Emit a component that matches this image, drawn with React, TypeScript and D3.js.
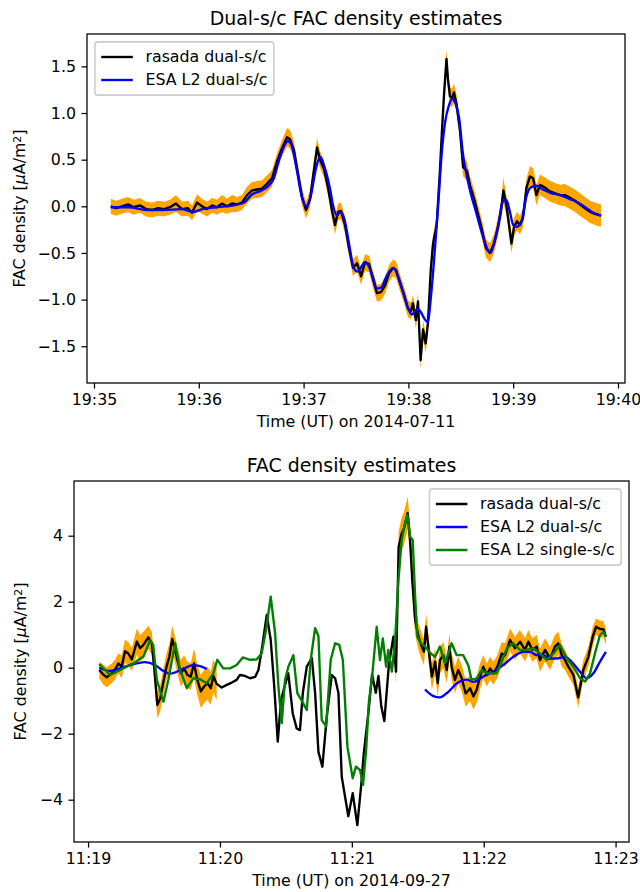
import React, { useEffect, useRef } from "react";
import * as d3 from "d3";

// ---- top panel: 2014-07-11, time in seconds after 19:35:00 UT
const topTime = [
  9.6, 12.6, 16.0, 19.5, 22.9, 26.3, 29.8, 33.2, 36.6, 40.1,
  43.5, 46.9, 50.4, 53.8, 56.1, 59.0, 61.8, 64.7, 67.6, 70.4,
  73.3, 76.1, 79.0, 81.9, 84.7, 87.6, 90.5, 93.3, 96.2, 99.0,
  101.9, 104.8, 107.6, 110.5, 112.2, 114.5, 116.8, 119.1, 121.4, 123.7,
  126.0, 127.7, 129.4, 131.7, 134.0, 136.3, 138.0, 139.7, 141.4, 143.7,
  146.0, 148.3, 150.6, 152.9, 155.2, 157.5, 159.7, 162.0, 164.3, 166.6,
  168.9, 171.2, 172.9, 175.2, 177.5, 179.8, 181.5, 182.6, 184.3, 185.5,
  187.0, 188.4, 189.9, 191.2, 192.8, 194.1, 196.2, 198.1, 199.2, 200.4,
  201.8, 202.7, 203.8, 205.0, 206.1, 207.5, 209.5, 211.3, 213.5, 215.3,
  217.6, 219.8, 222.1, 224.4, 226.7, 229.0, 231.3, 233.0, 234.4, 236.2,
  237.6, 239.0, 240.5, 242.2, 243.9, 245.6, 247.6, 249.6, 251.4, 253.3,
  255.3, 258.2, 261.1, 264.0, 266.8, 269.6, 272.5, 275.4, 278.2, 281.1,
  284.0, 286.8, 290.3,
];
const topRasada = [
  0.0, -0.02, 0.0, 0.02, -0.01, 0.01, -0.03, -0.04, -0.02, -0.03,
  -0.01, 0.03, -0.03, -0.02, -0.07, 0.04, 0.0, -0.03, 0.01, -0.01,
  0.03, 0.0, 0.03, 0.02, 0.04, 0.12, 0.17, 0.18, 0.19, 0.24,
  0.3, 0.48, 0.62, 0.74, 0.72, 0.6, 0.35, 0.1, -0.04, 0.08,
  0.4, 0.63, 0.5, 0.4, 0.2, -0.05, -0.2, -0.06, -0.05, -0.2,
  -0.45, -0.66, -0.61, -0.75, -0.6, -0.62, -0.78, -0.93, -0.92, -0.85,
  -0.72, -0.66, -0.68, -0.82, -0.95, -1.1, -1.12, -1.04, -1.22, -1.02,
  -1.65, -1.32, -1.47, -1.25, -0.68, -0.4, -0.2, 0.4, 0.8, 1.2,
  1.58, 1.35, 1.18, 1.16, 1.22, 1.1, 0.82, 0.42, 0.38, 0.22,
  0.08, -0.08, -0.25, -0.45, -0.5, -0.4, -0.22, -0.05, 0.17, 0.0,
  -0.2, -0.4, -0.22, -0.16, -0.2, -0.12, 0.2, 0.32, 0.3, 0.12,
  0.23, 0.2, 0.16, 0.14, 0.12, 0.12, 0.09, 0.06, 0.02, -0.02,
  -0.06, -0.08, -0.1,
];
const topRasadaErr = [
  0.08, 0.08, 0.08, 0.08, 0.08, 0.08, 0.08, 0.08, 0.08, 0.08,
  0.08, 0.09, 0.08, 0.08, 0.08, 0.09, 0.08, 0.08, 0.08, 0.08,
  0.09, 0.08, 0.09, 0.08, 0.08, 0.09, 0.09, 0.09, 0.09, 0.09,
  0.09, 0.09, 0.09, 0.1, 0.1, 0.09, 0.09, 0.09, 0.09, 0.09,
  0.09, 0.1, 0.09, 0.09, 0.09, 0.09, 0.1, 0.09, 0.09, 0.09,
  0.09, 0.09, 0.09, 0.09, 0.09, 0.09, 0.09, 0.09, 0.09, 0.09,
  0.09, 0.09, 0.09, 0.09, 0.09, 0.09, 0.09, 0.09, 0.09, 0.09,
  0.09, 0.1, 0.1, 0.1, 0.1, 0.1, 0.1, 0.1, 0.1, 0.1,
  0.1, 0.1, 0.1, 0.1, 0.1, 0.1, 0.1, 0.1, 0.1, 0.1,
  0.1, 0.1, 0.1, 0.1, 0.1, 0.1, 0.1, 0.1, 0.14, 0.1,
  0.1, 0.1, 0.1, 0.1, 0.1, 0.1, 0.1, 0.11, 0.11, 0.11,
  0.11, 0.11, 0.11, 0.11, 0.11, 0.12, 0.12, 0.12, 0.12, 0.12,
  0.12, 0.12, 0.12,
];
const topEsaTime = [
  9.6, 20, 30, 40, 50, 57, 62, 70, 80, 86,
  90, 96, 100, 103, 106, 109, 111, 113, 116, 119,
  121.4, 124, 127, 129.5, 132, 135, 137, 139, 141, 143.5,
  146, 148.5, 151, 153, 155, 157, 159.5, 162, 164.5, 167,
  169, 171.5, 174, 177, 180, 182, 184, 185.5, 187, 189,
  191, 193, 195, 197, 199, 201, 203, 205, 207, 209,
  211.3, 213.5, 216, 219, 222, 225, 227, 229, 231.5, 234,
  236, 238, 240, 242, 245, 247.5, 250, 253, 257, 262,
  267, 272, 277, 282, 286, 290.3,
];
const topEsa = [
  -0.01, -0.01, -0.04, -0.04, -0.03, -0.06, -0.03, -0.01, 0.01, 0.04,
  0.12, 0.17, 0.22, 0.3, 0.5, 0.65, 0.7, 0.66, 0.4, 0.1,
  0.0, 0.1, 0.4, 0.53, 0.42, 0.2, 0.0, -0.1, -0.06, -0.15,
  -0.4, -0.65, -0.7, -0.65, -0.6, -0.63, -0.75, -0.88, -0.87, -0.77,
  -0.7, -0.66, -0.75, -0.92, -1.1, -1.16, -1.12, -1.1, -1.13, -1.2,
  -1.24, -0.95, -0.5, 0.0, 0.55, 0.9, 1.07, 1.15, 1.1, 0.95,
  0.55, 0.32, 0.12, -0.08, -0.28, -0.45, -0.5, -0.4, -0.2, 0.05,
  0.07, -0.05, -0.2, -0.22, -0.15, 0.1, 0.2, 0.22, 0.18, 0.14,
  0.12, 0.08, 0.04, -0.02, -0.07, -0.1,
];
const topXTicks = [0, 60, 120, 180, 240, 300];
const topXTickLabels = ["19:35", "19:36", "19:37", "19:38", "19:39", "19:40"];
const topYTicks = [-1.5, -1.0, -0.5, 0.0, 0.5, 1.0, 1.5];

// ---- bottom panel: 2014-09-27, time in seconds after 11:19:00 UT
const botTime = [
  5.1, 6.8, 8.5, 10.8, 12.3, 13.8, 15.3, 16.8, 18.3, 19.9,
  22.2, 23.7, 25.2, 27.4, 29.0, 30.2, 31.5, 32.8, 34.0, 35.5,
  37.0, 38.3, 39.6, 40.6, 42.2, 43.7, 45.2, 46.7, 48.2, 49.7,
  51.3, 52.8, 54.3, 55.8, 57.0, 58.5, 60.8, 63.1, 65.4, 67.6,
  69.1, 71.4, 73.7, 76.0, 77.5, 79.0, 81.3, 83.1, 84.7, 86.3,
  87.8, 89.2, 91.1, 93.1, 94.9, 96.4, 97.7, 99.5, 101.8, 103.3,
  104.8, 106.6, 108.6, 110.9, 112.4, 113.9, 115.4, 118.4, 120.4, 122.5,
  124.2, 125.4, 127.6, 129.2, 130.9, 132.1, 133.4, 134.8, 136.8, 138.9,
  140.1, 141.3, 142.7, 143.7, 144.7, 145.4, 146.5, 147.5, 148.8, 150.3,
  151.8, 152.8, 153.8, 154.8, 156.4, 157.9, 159.1, 160.1, 161.6, 163.2,
  164.4, 165.4, 166.9, 168.4, 170.0, 171.8, 173.8, 175.3, 176.8, 178.3,
  179.8, 181.4, 182.9, 184.4, 186.2, 188.2, 189.7, 192.0, 194.2, 196.5,
  198.8, 200.3, 202.1, 204.1, 205.6, 207.9, 210.2, 212.4, 213.9, 215.5,
  217.0, 218.5, 220.8, 223.0, 225.3, 227.6, 229.6, 231.1, 232.9, 234.4,
  235.6,
];
const botRasada = [
  -0.07, -0.2, -0.29, -0.17, -0.05, 0.13, 0.03, 0.5, 0.43, 0.25,
  0.79, 0.59, 0.69, 0.92, 0.74, -0.07, -1.13, -0.93, -0.52, -0.02,
  0.34, 0.87, 0.54, 0.24, -0.17, -0.02, -0.22, -0.27, 0.13, -0.37,
  -0.72, -0.57, -0.47, -0.62, -0.25, -0.49, -0.6, -0.52, -0.45, -0.37,
  -0.22, -0.25, -0.32, -0.28, -0.07, 0.54, 1.6, 0.84, -0.57, -2.24,
  -0.98, -0.62, -0.17, -1.38, -1.84, -1.89, -0.77, 0.03, 0.29, -0.77,
  -2.55, -3.0, -1.48, -0.22, -0.32, -0.77, -3.3, -4.5, -3.8, -4.77,
  -3.6, -2.63, -1.32, -0.2, -0.76, -0.25, -1.17, -1.62, 0.05, 0.94,
  -0.12, 3.67, 4.07, 4.22, 4.48, 4.68, 3.87, 2.66, 1.45, 0.94,
  0.64, 0.48, 1.24, 0.64, -0.27, 0.18, -0.47, 0.23, 0.38, -0.07,
  0.64, 0.03, -0.37, -0.07, -0.32, -0.78, -0.62, -0.87, -0.67, -0.27,
  0.03, -0.22, -0.02, -0.17, 0.03, 0.43, 0.38, 0.84, 0.59, 0.79,
  0.54, 0.79, 0.54, 0.64, 0.23, 0.54, 0.28, 0.64, 0.74, 0.38,
  0.23, 0.03, -0.22, -0.9, -0.07, 0.33, 0.94, 1.24, 1.17, 1.17,
  0.94,
];
// no uncertainty where the band is missing (null)
const botRasadaErr = [
  0.25, 0.3, 0.3, 0.3, 0.3, 0.3, 0.35, 0.35, 0.35, 0.35,
  0.4, 0.4, 0.4, 0.35, 0.35, 0.35, 0.4, 0.4, 0.4, 0.4,
  0.4, 0.4, 0.4, 0.4, 0.4, 0.4, 0.4, 0.4, 0.45, 0.45,
  0.5, 0.5, 0.5, 0.5, 0.5, 0.5, null, null, null, null,
  null, null, null, null, null, null, null, null, null, null,
  null, null, null, null, null, null, null, null, null, null,
  null, null, null, null, null, null, null, null, null, null,
  null, null, null, null, null, null, null, null, null, 0.35,
  0.35, 0.45, 0.5, 0.5, 0.5, 0.5, 0.5, 0.45, 0.45, 0.4,
  0.4, 0.4, 0.4, 0.4, 0.4, 0.4, 0.4, 0.4, 0.4, 0.4,
  0.4, 0.4, 0.4, 0.4, 0.4, 0.4, 0.4, 0.4, 0.4, 0.4,
  0.35, 0.35, 0.35, 0.35, 0.35, 0.35, 0.35, 0.35, 0.35, 0.35,
  0.35, 0.35, 0.35, 0.35, 0.35, 0.35, 0.35, 0.35, 0.35, 0.35,
  0.3, 0.3, 0.3, 0.3, 0.3, 0.3, 0.3, 0.25, 0.25, 0.25,
  0.25,
];
const botEsaDualTimeA = [5.1, 10.0, 17.6, 25.9, 30.5, 34.3, 37.3, 43.4, 47.9, 50.9, 54.0];
const botEsaDualA = [0.0, -0.1, 0.05, 0.17, 0.08, -0.1, -0.18, -0.03, 0.08, 0.05, -0.04];
const botEsaDualTimeB = [
  153.3, 157.1, 160.1, 163.9, 167.7, 172.3, 175.3, 179.8, 184.4, 188.9,
  193.5, 198.0, 201.1, 204.1, 207.1, 210.2, 213.2, 217.0, 220.0, 223.8,
  226.9, 229.9, 232.9, 235.6,
];
const botEsaDualB = [
  -0.66, -0.86, -0.9, -0.73, -0.48, -0.36, -0.43, -0.27, -0.12, 0.08,
  0.33, 0.48, 0.48, 0.38, 0.38, 0.28, 0.28, 0.33, 0.18, -0.12,
  -0.32, -0.17, 0.18, 0.48,
];
const botEsaSingleTime = [
  5.1, 10.0, 14.6, 20.6, 25.2, 28.2, 29.6, 31.3, 34.3, 36.5,
  39.6, 41.9, 44.9, 47.9, 50.9, 54.0, 57.0, 58.8, 61.5, 64.6,
  67.6, 70.4, 73.7, 76.7, 79.0, 81.0, 83.1, 85.1, 86.6, 88.1,
  89.6, 91.1, 93.4, 95.2, 97.9, 99.5, 101.3, 103.3, 104.8, 106.3,
  108.3, 110.4, 112.4, 114.3, 115.9, 118.0, 120.4, 121.9, 123.7, 125.1,
  126.5, 127.8, 129.2, 131.3, 132.8, 134.1, 135.6, 136.6, 138.2, 139.7,
  141.2, 142.7, 144.2, 145.3, 146.5, 147.7, 148.8, 149.8, 151.3, 153.3,
  155.9, 157.9, 160.1, 162.4, 165.4, 167.7, 170.7, 173.0, 174.5, 176.8,
  179.1, 181.4, 183.6, 185.9, 188.2, 190.5, 193.5, 196.5, 199.6, 202.6,
  205.6, 208.7, 211.7, 214.7, 217.8, 220.8, 223.8, 226.1, 228.4, 230.6,
  232.9, 234.4, 235.6,
];
const botEsaSingle = [
  0.11, -0.22, -0.07, 0.13, 0.34, 0.84, 0.7, -0.37, -1.03, -0.37,
  0.74, -0.07, -0.62, -0.32, -0.35, -0.47, -0.17, 0.24, -0.02, -0.02,
  0.08, 0.31, 0.24, 0.25, 0.44, 1.16, 2.15, 1.04, -0.57, -1.68,
  -0.37, 0.03, 0.38, -0.77, -1.08, -1.28, 0.24, 1.2, 0.96, -1.58,
  -1.78, 0.24, 0.74, 0.69, 0.24, -2.4, -3.35, -3.0, -3.1, -3.55,
  -2.5, -1.0, -0.3, 1.24, 0.23, 0.89, 0.03, 0.54, -0.12, 0.84,
  2.66, 3.87, 4.38, 4.62, 3.97, 3.87, 2.16, 0.94, 0.74, 0.64,
  0.43, 0.33, 0.64, 0.13, 0.74, 0.38, 0.38, 0.07, -0.37, -0.32,
  -0.07, -0.17, -0.17, -0.17, 0.18, 0.59, 0.74, 0.54, 0.54, 0.59,
  0.43, 0.23, 0.43, 0.69, 0.28, 0.03, -0.32, -0.42, -0.17, 0.43,
  0.99, 1.09, 0.94,
];
const botXTicks = [0, 60, 120, 180, 240];
const botXTickLabels = ["11:19", "11:20", "11:21", "11:22", "11:23"];
const botYTicks = [-4, -2, 0, 2, 4];

const legendLabels = ["rasada dual-s/c", "ESA L2 dual-s/c", "ESA L2 single-s/c"];

const FONT = "DejaVu Sans, sans-serif";
const PT = 1.58; // px per point
const FS = 10 * PT;
const LW = 1.5 * PT;
const TICK = 3.5 * PT;

const pairs = (ts, vs, es?) => ts.map((t, i) => ({ t, v: vs[i], e: es ? es[i] : 0 }));

function drawPanel(svg, p) {
  const x = d3.scaleLinear().domain(p.xDomain).range([p.left, p.right]);
  const y = d3.scaleLinear().domain(p.yDomain).range([p.bottom, p.top]);
  const g = svg.append("g");

  const rasada = pairs(p.time, p.rasada, p.err);
  g.append("path")
    .datum(rasada)
    .attr("fill", "orange")
    .attr("d", d3.area().defined(d => d.e != null)
      .x(d => x(d.t)).y0(d => y(d.v - d.e)).y1(d => y(d.v + d.e)));

  const line = d3.line().x(d => x(d.t)).y(d => y(d.v));
  const smooth = d3.line().x(d => x(d.t)).y(d => y(d.v)).curve(d3.curveMonotoneX);

  g.append("path").datum(rasada)
    .attr("fill", "none").attr("stroke", "#000").attr("stroke-width", LW)
    .attr("stroke-linejoin", "round").attr("d", line);

  p.esaDual.forEach(seg => {
    g.append("path").datum(pairs(seg[0], seg[1]))
      .attr("fill", "none").attr("stroke", "#0000ff").attr("stroke-width", LW)
      .attr("stroke-linejoin", "round").attr("d", smooth);
  });

  if (p.esaSingle) {
    g.append("path").datum(pairs(p.esaSingle[0], p.esaSingle[1]))
      .attr("fill", "none").attr("stroke", "#008000").attr("stroke-width", LW)
      .attr("stroke-linejoin", "round").attr("d", line);
  }

  // axes
  const gx = svg.append("g")
    .attr("transform", `translate(0,${p.bottom})`)
    .call(d3.axisBottom(x).tickValues(p.xTicks).tickFormat((_, i) => p.xTickLabels[i])
      .tickSize(TICK).tickPadding(TICK).tickSizeOuter(0));
  const gy = svg.append("g")
    .attr("transform", `translate(${p.left},0)`)
    .call(d3.axisLeft(y).tickValues(p.yTicks).tickFormat(d3.format(p.yFormat))
      .tickSize(TICK).tickPadding(TICK).tickSizeOuter(0));
  [gx, gy].forEach(a => {
    a.select(".domain").remove();
    a.attr("font-size", FS).attr("font-family", FONT);
    a.selectAll("line").attr("stroke", "#000").attr("stroke-width", 0.8 * PT);
    a.selectAll("text").attr("fill", "#000");
  });

  svg.append("rect")
    .attr("x", p.left).attr("y", p.top)
    .attr("width", p.right - p.left).attr("height", p.bottom - p.top)
    .attr("fill", "none").attr("stroke", "#000").attr("stroke-width", 0.8 * PT);

  svg.append("text")
    .attr("x", (p.left + p.right) / 2).attr("y", p.top - 6 * PT)
    .attr("text-anchor", "middle").attr("font-family", FONT).attr("font-size", 12 * PT)
    .text(p.title);

  svg.append("text")
    .attr("x", (p.left + p.right) / 2).attr("y", p.bottom + 44)
    .attr("text-anchor", "middle").attr("font-family", FONT).attr("font-size", FS)
    .text(p.xlabel);

  const yl = svg.append("text")
    .attr("transform", `translate(${p.ylabelX},${(p.top + p.bottom) / 2}) rotate(-90)`)
    .attr("text-anchor", "middle").attr("font-family", FONT).attr("font-size", FS);
  yl.append("tspan").text("FAC density [");
  yl.append("tspan").attr("font-style", "italic").text("μ");
  yl.append("tspan").text("A/m");
  yl.append("tspan").attr("baseline-shift", "35%").attr("font-size", FS * 0.7).text("2");
  yl.append("tspan").text("]");

  // legend
  const colors = ["#000", "#0000ff", "#008000"];
  const n = p.legendRows;
  const lg = svg.append("g");
  const box = lg.append("rect")
    .attr("y", p.legendTop).attr("height", 30.2 + (n - 1) * 23)
    .attr("rx", 0.2 * FS).attr("fill", "#fff").attr("fill-opacity", 0.8)
    .attr("stroke", "#cccccc").attr("stroke-width", PT);
  const texts = [];
  for (let i = 0; i < n; i++) {
    const cy = p.legendTop + 15.1 + i * 23;
    texts.push(lg.append("text").attr("y", cy + 5).attr("font-family", FONT)
      .attr("font-size", FS).text(legendLabels[i]));
    lg.append("line").attr("class", "h").attr("y1", cy).attr("y2", cy)
      .attr("stroke", colors[i]).attr("stroke-width", LW);
  }
  const maxLen = d3.max(texts, t => t.node().getComputedTextLength());
  const w = 0.4 * FS + 2 * FS + 0.8 * FS + maxLen + 0.4 * FS;
  const x0 = p.legendAnchor === "left" ? p.left + 0.5 * FS : p.right - 0.5 * FS - w;
  box.attr("x", x0).attr("width", w);
  lg.selectAll("line.h").attr("x1", x0 + 0.4 * FS).attr("x2", x0 + 2.4 * FS);
  texts.forEach(t => t.attr("x", x0 + 3.2 * FS));
}

export default function App() {
  const ref = useRef(null);

  useEffect(() => {
    const svg = d3.select(ref.current);
    svg.selectAll("*").remove();
    svg.append("rect").attr("width", 640).attr("height", 892).attr("fill", "#fff");

    drawPanel(svg, {
      left: 87, right: 625, top: 34, bottom: 383,
      xDomain: [-4, 304], yDomain: [-1.894, 1.847],
      time: topTime, rasada: topRasada, err: topRasadaErr,
      esaDual: [[topEsaTime, topEsa]],
      esaSingle: null,
      xTicks: topXTicks, xTickLabels: topXTickLabels,
      yTicks: topYTicks, yFormat: ".1f",
      title: "Dual-s/c FAC density estimates",
      xlabel: "Time (UT) on 2014-07-11",
      ylabelX: 25,
      legendRows: 2, legendTop: 34 + 0.5 * FS, legendAnchor: "left",
    });

    drawPanel(svg, {
      left: 74, right: 629, top: 481, bottom: 842,
      xDomain: [-6.4, 246.1], yDomain: [-5.282, 5.658],
      time: botTime, rasada: botRasada, err: botRasadaErr,
      esaDual: [[botEsaDualTimeA, botEsaDualA], [botEsaDualTimeB, botEsaDualB]],
      esaSingle: [botEsaSingleTime, botEsaSingle],
      xTicks: botXTicks, xTickLabels: botXTickLabels,
      yTicks: botYTicks, yFormat: "d",
      title: "FAC density estimates",
      xlabel: "Time (UT) on 2014-09-27",
      ylabelX: 26,
      legendRows: 3, legendTop: 481 + 0.5 * FS, legendAnchor: "right",
    });
  }, []);

  return (
    <svg
      ref={ref}
      width={640}
      height={892}
      style={{ position: "absolute", left: 0, top: 0 }}
    />
  );
}
